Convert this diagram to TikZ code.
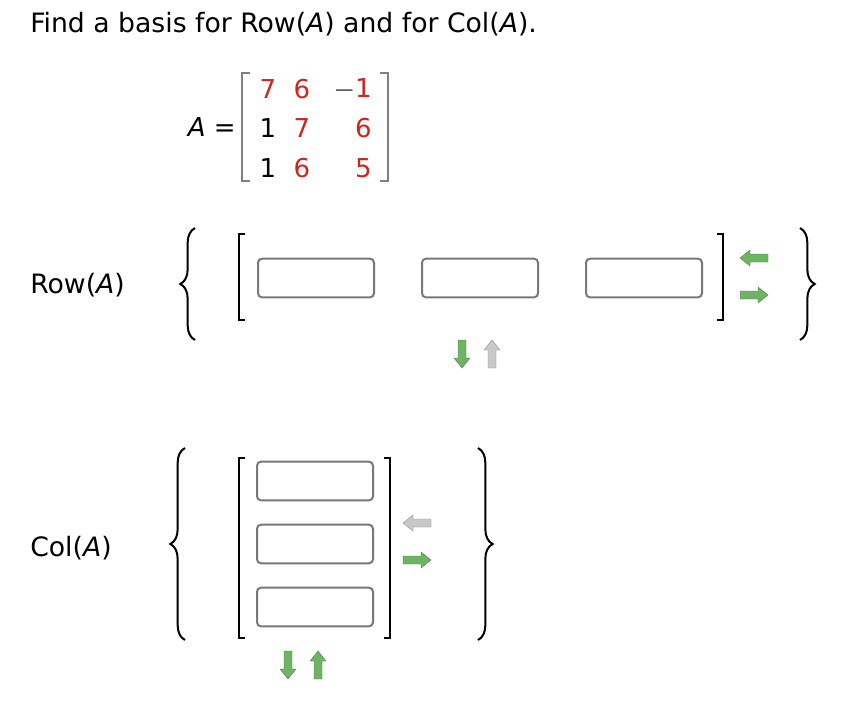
\documentclass[tikz,border=0pt]{standalone}
\usepackage{fontspec}
\setmainfont{DejaVu Sans}
\usetikzlibrary{decorations.pathreplacing}
\definecolor{entryred}{RGB}{200,40,30}
\definecolor{boxgrey}{RGB}{120,120,120}
\definecolor{arrgreen}{RGB}{110,180,100}
\definecolor{arrgrey}{RGB}{200,200,200}
\tikzset{
  ansbox/.style={draw=boxgrey, line width=1.5pt, rounded corners=3pt, minimum width=87pt, minimum height=29pt, inner sep=0pt},
  vbrace/.style={decorate, decoration={brace, amplitude=11pt}, line width=1.5pt},
  vbrack/.style={line width=1.5pt},
  lbl/.style={font=\fontsize{20}{24}\selectfont, anchor=base west, inner sep=0pt},
  entry/.style={font=\fontsize{19.5}{23}\selectfont, inner sep=0pt},
  pics/barrow/.style={code={
    \fill[#1, draw=#1!70!black, line width=0.3pt] (-14,-4) -- (4,-4) -- (4,-8) -- (14,0) -- (4,8) -- (4,4) -- (-14,4) -- cycle;
  }}
}
\begin{document}
\begin{tikzpicture}[x=0.75pt, y=-0.75pt]
\useasboundingbox (0,0) rectangle (846,708);

\node[lbl] (title) at (30,32) {Find a basis for Row(\textit{A}) and for Col(\textit{A}).};

% matrix A
\node[entry, anchor=base east] (aeq) at (236,136) {\textit{A} =};
\draw[line width=1.8pt, color=gray] (250,73) -- (242,73) -- (242,181) -- (250,181);
\draw[line width=1.8pt, color=gray] (380,73) -- (388,73) -- (388,181) -- (380,181);
\node[entry, text=entryred] (a11) at (268,89) {7};
\node[entry, text=entryred] (a12) at (302,89) {6};
\node[entry, anchor=east] (a13) at (372,89) {$-$\textcolor{entryred}{1}};
\node[entry] (a21) at (268,128) {1};
\node[entry, text=entryred] (a22) at (302,128) {7};
\node[entry, text=entryred, anchor=east] (a23) at (372,128) {6};
\node[entry] (a31) at (268,168) {1};
\node[entry, text=entryred] (a32) at (302,168) {6};
\node[entry, text=entryred, anchor=east] (a33) at (372,168) {5};

% Row(A)
\node[lbl] (rowlbl) at (30,293) {Row(\textit{A})};
\draw[vbrace] (195,340) -- (195,228);
\draw[vbrack] (245,234) -- (239,234) -- (239,320) -- (245,320);
\node[ansbox] (r1) at (316,278) {};
\node[ansbox] (r2) at (480,278) {};
\node[ansbox] (r3) at (644,278) {};
\draw[vbrack] (717,234) -- (723,234) -- (723,320) -- (717,320);
\pic[rotate=180] at (754,258) {barrow=arrgreen};
\pic at (754,295) {barrow=arrgreen};
\draw[vbrace] (800,228) -- (800,340);
\pic[rotate=-90] at (462,354) {barrow=arrgreen};
\pic[rotate=90] at (492,354) {barrow=arrgrey};

% Col(A)
\node[lbl] (collbl) at (30,556) {Col(\textit{A})};
\draw[vbrace] (185,640) -- (185,448);
\draw[vbrack] (245,458) -- (239,458) -- (239,638) -- (245,638);
\node[ansbox] (c1) at (315,481) {};
\node[ansbox] (c2) at (315,544) {};
\node[ansbox] (c3) at (315,607) {};
\draw[vbrack] (384,458) -- (390,458) -- (390,638) -- (384,638);
\pic[rotate=180] at (417,523) {barrow=arrgrey};
\pic at (417,560) {barrow=arrgreen};
\draw[vbrace] (478,448) -- (478,640);
\pic[rotate=-90] at (288,665) {barrow=arrgreen};
\pic[rotate=90] at (318,665) {barrow=arrgreen};
\end{tikzpicture}
\end{document}
